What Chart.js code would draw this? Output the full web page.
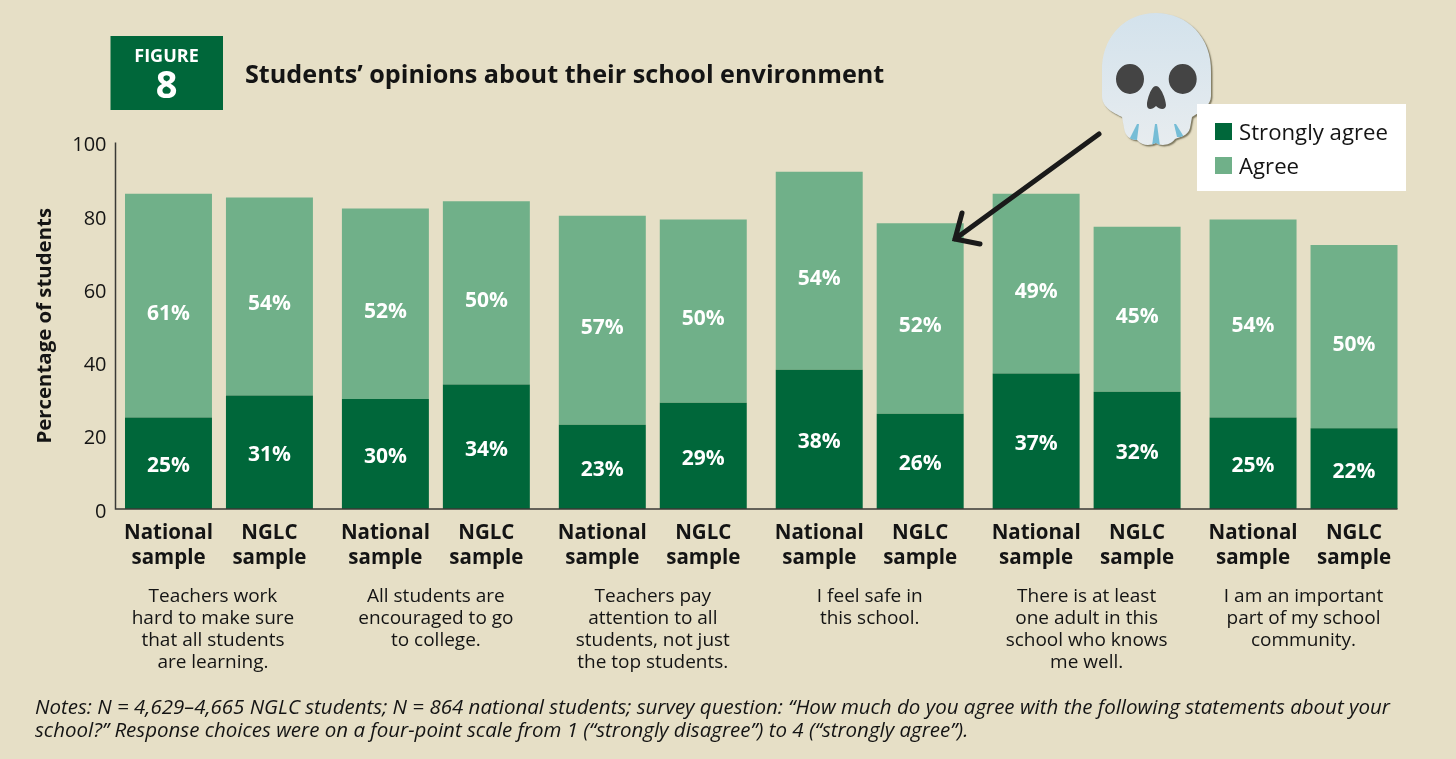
<!DOCTYPE html>
<html>
<head>
<meta charset="utf-8">
<title>Students' opinions about their school environment</title>
<script src="https://cdn.jsdelivr.net/npm/chart.js@4"></script>
<style>
    html, body { margin: 0; padding: 0; background: #e6dfc6; }
    canvas { display: block; }
</style>
</head>
<body>
<canvas id="opinionChart" width="1456" height="759"></canvas>
<script>
const statements = [
    ['Teachers work', 'hard to make sure', 'that all students', 'are learning.'],
    ['All students are', 'encouraged to go', 'to college.'],
    ['Teachers pay', 'attention to all', 'students, not just', 'the top students.'],
    ['I feel safe in', 'this school.'],
    ['There is at least', 'one adult in this', 'school who knows', 'me well.'],
    ['I am an important', 'part of my school', 'community.']
];
const sampleNames = [['National', 'sample'], ['NGLC', 'sample']];
const nationalStrongly = [25, 30, 23, 38, 37, 25];
const nationalAgree = [61, 52, 57, 54, 49, 54];
const nglcStrongly = [31, 34, 29, 26, 32, 22];
const nglcAgree = [54, 50, 50, 52, 45, 50];
const yTicks = [0, 20, 40, 60, 80, 100];
const noteLines = [
    'Notes: N = 4,629\u20134,665 NGLC students; N = 864 national students; survey question: \u201cHow much do you agree with the following statements about your',
    'school?\u201d Response choices were on a four-point scale from 1 (\u201cstrongly disagree\u201d) to 4 (\u201cstrongly agree\u201d).'
];

const DARK = '#00673a';
const LIGHT = '#70b089';
const INK = '#141414';
const FAMILY = '"Open Sans", sans-serif';

function text(ctx, str, x, y, font, color, align) {
    ctx.font = font;
    ctx.fillStyle = color;
    ctx.textAlign = align || 'left';
    ctx.textBaseline = 'middle';
    ctx.fillText(str, x, y);
}

function skullOutline(ctx) {
    ctx.beginPath();
    ctx.moveTo(1156, 13);
    ctx.bezierCurveTo(1188, 13, 1212, 38, 1211, 72);
    ctx.lineTo(1211, 96);
    ctx.bezierCurveTo(1211, 106, 1200, 112, 1192, 117);
    ctx.lineTo(1190, 128);
    ctx.bezierCurveTo(1188, 136, 1180, 137, 1175, 139);
    ctx.bezierCurveTo(1170, 146, 1160, 146, 1156, 143);
    ctx.bezierCurveTo(1150, 146, 1142, 146, 1137, 140);
    ctx.bezierCurveTo(1130, 140, 1125, 136, 1124, 128);
    ctx.lineTo(1122, 117);
    ctx.bezierCurveTo(1114, 113, 1102, 108, 1102, 96);
    ctx.lineTo(1102, 72);
    ctx.bezierCurveTo(1101, 38, 1124, 13, 1156, 13);
    ctx.closePath();
}

function wedge(ctx, topX, topY, leftX, rightX, bottomY) {
    ctx.beginPath();
    ctx.moveTo(topX - 1, topY);
    ctx.lineTo(topX + 1, topY);
    ctx.lineTo(rightX, bottomY);
    ctx.lineTo(leftX, bottomY);
    ctx.closePath();
    ctx.fill();
}

function drawSkull(ctx) {
    ctx.save();
    const skullFill = ctx.createLinearGradient(0, 13, 0, 144);
    skullFill.addColorStop(0, '#d3e2ec');
    skullFill.addColorStop(1, '#e7ecef');
    ctx.shadowColor = 'rgba(90, 85, 60, 0.75)';
    ctx.shadowOffsetX = 1.5;
    ctx.shadowOffsetY = 1.5;
    ctx.shadowBlur = 1.5;
    ctx.fillStyle = skullFill;
    skullOutline(ctx);
    ctx.fill();
    ctx.shadowColor = 'transparent';

    ctx.fillStyle = '#444444';
    ctx.beginPath();
    ctx.ellipse(1130, 79, 14, 15, 0, 0, Math.PI * 2);
    ctx.ellipse(1182.7, 79, 14, 15, 0, 0, Math.PI * 2);
    ctx.fill();
    ctx.beginPath();
    ctx.moveTo(1156, 86);
    ctx.bezierCurveTo(1161, 86, 1166, 100, 1166, 105);
    ctx.bezierCurveTo(1166, 110, 1160, 110, 1156, 106);
    ctx.bezierCurveTo(1152, 110, 1147, 110, 1147, 105);
    ctx.bezierCurveTo(1147, 100, 1151, 86, 1156, 86);
    ctx.fill();

    // teeth gaps, flaring towards the jaw
    skullOutline(ctx);
    ctx.clip();
    ctx.fillStyle = '#76bdd6';
    wedge(ctx, 1138, 124, 1129, 1137, 140);
    wedge(ctx, 1156, 124, 1152, 1160, 146);
    wedge(ctx, 1175, 124, 1177, 1184, 137);
    ctx.restore();
}

function drawArrow(ctx) {
    ctx.save();
    ctx.strokeStyle = '#1a1a1a';
    ctx.lineWidth = 5;
    ctx.lineCap = 'round';
    ctx.lineJoin = 'miter';
    ctx.beginPath();
    ctx.moveTo(1099, 134);
    ctx.lineTo(955, 239);
    ctx.moveTo(962, 213);
    ctx.lineTo(955, 239);
    ctx.lineTo(980, 244);
    ctx.stroke();
    ctx.restore();
}

const figureDecor = {
    id: 'figureDecor',
    afterDatasetsDraw(chart) {
        const ctx = chart.ctx;
        const yScale = chart.scales.y;
        ctx.save();

        // axes, the baseline stops at the edge of the last bar
        const lastBar = chart.getDatasetMeta(2).data[statements.length - 1];
        ctx.strokeStyle = '#3a3a36';
        ctx.lineWidth = 1.5;
        ctx.beginPath();
        ctx.moveTo(115.5, yScale.getPixelForValue(100));
        ctx.lineTo(115.5, yScale.getPixelForValue(0));
        ctx.lineTo(lastBar.x + lastBar.width / 2, yScale.getPixelForValue(0));
        ctx.stroke();

        // percentages inside the bars
        chart.data.datasets.forEach((ds, i) => {
            const isAgree = i % 2 === 1;
            chart.getDatasetMeta(i).data.forEach((bar, j) => {
                const mid = (bar.y + bar.base) / 2 + (isAgree ? 8 : 3);
                text(ctx, ds.data[j] + '%', bar.x, mid, 'bold 21px ' + FAMILY, '#ffffff', 'center');
            });
        });

        // sample names under each bar, statement under each pair
        [0, 2].forEach((dsIndex, s) => {
            chart.getDatasetMeta(dsIndex).data.forEach(bar => {
                sampleNames[s].forEach((line, k) => {
                    text(ctx, line, bar.x, 533 + k * 25, 'bold 20.5px ' + FAMILY, INK, 'center');
                });
            });
        });
        const xScale = chart.scales.x;
        statements.forEach((lines, g) => {
            const cx = xScale.getPixelForValue(g) + (g === 0 ? -6 : 0);
            lines.forEach((line, k) => {
                text(ctx, line, cx, 597 + k * 22, '19px ' + FAMILY, INK, 'center');
            });
        });

        // figure tag and title
        ctx.fillStyle = DARK;
        ctx.fillRect(110.5, 36, 112.5, 74);
        text(ctx, 'FIGURE', 166.5, 57, 'bold 18px ' + FAMILY, '#ffffff', 'center');
        text(ctx, '8', 166.5, 87, 'bold 38px ' + FAMILY, '#ffffff', 'center');
        text(ctx, 'Students\u2019 opinions about their school environment', 245, 76, 'bold 25.2px ' + FAMILY, INK);

        drawSkull(ctx);
        drawArrow(ctx);

        // key
        ctx.fillStyle = '#ffffff';
        ctx.fillRect(1197, 104, 209, 87);
        ctx.fillStyle = DARK;
        ctx.fillRect(1215, 123, 17, 17);
        ctx.fillStyle = LIGHT;
        ctx.fillRect(1215, 157, 17, 17);
        text(ctx, 'Strongly agree', 1239, 134, '22.2px ' + FAMILY, INK);
        text(ctx, 'Agree', 1239, 168, '22.2px ' + FAMILY, INK);

        noteLines.forEach((line, k) => {
            text(ctx, line, 35, 708 + k * 23, 'italic 20.5px ' + FAMILY, INK);
        });
        ctx.restore();
    }
};

new Chart(document.getElementById('opinionChart').getContext('2d'), {
    type: 'bar',
    data: {
        labels: statements.map(lines => lines.join(' ')),
        datasets: [
            { label: 'Strongly agree', stack: 'national', data: nationalStrongly, backgroundColor: DARK },
            { label: 'Agree', stack: 'national', data: nationalAgree, backgroundColor: LIGHT },
            { label: 'Strongly agree', stack: 'nglc', data: nglcStrongly, backgroundColor: DARK },
            { label: 'Agree', stack: 'nglc', data: nglcAgree, backgroundColor: LIGHT }
        ]
    },
    options: {
        responsive: false,
        animation: false,
        devicePixelRatio: 1,
        categoryPercentage: 202 / 217,
        barPercentage: 87 / 101,
        layout: { padding: { top: 142.5, right: 44, bottom: 250, left: 0 } },
        plugins: {
            legend: { display: false },
            tooltip: { enabled: false }
        },
        scales: {
            x: {
                stacked: true,
                grid: { display: false },
                border: { display: false },
                ticks: { display: false },
                afterFit: scale => { scale.height = 0; }
            },
            y: {
                stacked: true,
                min: 0,
                max: 100,
                afterFit: scale => { scale.width = 110.5; },
                afterBuildTicks: scale => { scale.ticks = yTicks.map(v => ({ value: v })); },
                grid: { display: false, drawTicks: false },
                border: { display: false },
                ticks: {
                    padding: 4,
                    labelOffset: 3,
                    color: INK,
                    font: { family: FAMILY, size: 20 }
                },
                title: {
                    display: true,
                    text: 'Percentage of students',
                    color: INK,
                    padding: { top: 33, bottom: 0 },
                    font: { family: FAMILY, size: 20.4, weight: 'bold' }
                }
            }
        }
    },
    plugins: [figureDecor]
});
</script>
</body>
</html>
